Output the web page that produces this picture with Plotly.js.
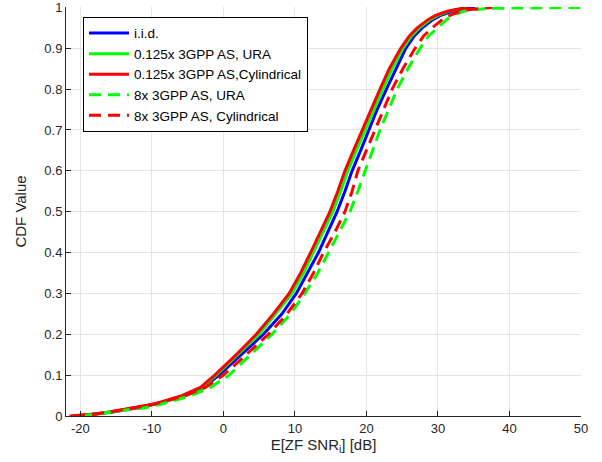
<!DOCTYPE html>
<html>
<head>
<meta charset="utf-8">
<script src="https://cdn.plot.ly/plotly-3.0.1.min.js"></script>
<style>html,body{margin:0;padding:0;background:#fff;}#chart{width:602px;height:462px;}</style>
</head>
<body>
<div id="chart"></div>
<script>
// CDF levels (y values)
const cdfLevels = [0, 0.005, 0.01, 0.02, 0.03, 0.05, 0.07, 0.1, 0.12, 0.15, 0.2, 0.25, 0.3, 0.35, 0.4, 0.45, 0.5, 0.55, 0.6, 0.65, 0.7, 0.75, 0.8, 0.85, 0.9, 0.93, 0.95, 0.97, 0.98, 0.99, 0.995, 1];
const cdfLevelsUra8 = [0, 0.005, 0.01, 0.02, 0.03, 0.05, 0.07, 0.1, 0.12, 0.15, 0.2, 0.25, 0.3, 0.35, 0.4, 0.45, 0.5, 0.55, 0.6, 0.65, 0.7, 0.75, 0.8, 0.85, 0.9, 0.93, 0.95, 0.97, 0.98, 0.99, 0.995, 0.998, 1];

// SNR values (dB) at each CDF level
const snrIid      = [-20.5, -17.5, -15.5, -12.0, -9.3, -5.3, -2.8, -0.6, 0.6, 2.5, 5.6, 8.2, 10.2, 11.8, 13.3, 14.6, 15.9, 17.0, 18.0, 19.2, 20.3, 21.5, 22.8, 24.1, 25.5, 26.7, 27.8, 29.3, 30.3, 31.9, 33.2, 35.2];
const snrUraSmall = [-21.0, -17.5, -15.5, -12.3, -9.3, -5.5, -3.0, -1.0, 0.2, 2.1, 5.0, 7.3, 9.6, 11.2, 12.6, 14.0, 15.3, 16.4, 17.4, 18.6, 19.8, 21.0, 22.3, 23.6, 25.1, 26.3, 27.4, 28.9, 29.9, 31.4, 32.7, 34.0];
const snrCylSmall = [-21.5, -18.0, -16.0, -12.5, -9.5, -5.8, -3.2, -1.2, 0.0, 1.8, 4.6, 7.0, 9.2, 10.8, 12.2, 13.6, 14.9, 16.0, 17.0, 18.2, 19.4, 20.6, 21.9, 23.2, 24.8, 26.0, 27.1, 28.6, 29.6, 31.2, 32.5, 34.3];
const snrUraLarge = [-20.0, -17.5, -15.8, -11.0, -8.5, -4.5, -1.8, 0.8, 2.0, 3.8, 6.8, 9.4, 11.4, 13.2, 14.7, 16.3, 17.7, 18.8, 19.8, 20.9, 21.9, 23.1, 24.3, 25.8, 27.5, 28.7, 29.9, 31.2, 32.0, 33.5, 35.0, 38.0, 50.0];
const snrCylLarge = [-21.0, -17.8, -15.8, -12.3, -9.5, -5.3, -2.5, 0.0, 1.3, 3.2, 6.3, 8.9, 11.0, 12.6, 14.0, 15.6, 17.0, 18.0, 18.8, 20.0, 21.2, 22.4, 23.6, 25.1, 26.8, 28.0, 29.2, 30.6, 31.6, 33.0, 34.5, 37.6];

const seriesNames = ['i.i.d.', '0.125x 3GPP AS, URA', '0.125x 3GPP AS,Cylindrical', '8x 3GPP AS, URA', '8x 3GPP AS, Cylindrical'];
const xTicks = [-20, -10, 0, 10, 20, 30, 40, 50];
const yTicks = [0, 0.1, 0.2, 0.3, 0.4, 0.5, 0.6, 0.7, 0.8, 0.9, 1];
const yTickLabels = ['0', '0.1', '0.2', '0.3', '0.4', '0.5', '0.6', '0.7', '0.8', '0.9', '1'];

const dashPat = '12px,7px';
function tr(x, y, name, color, dash) {
  return {x: x, y: y, name: name, type: 'scatter', mode: 'lines',
    line: {color: color, width: 3, dash: dash}};
}
const data = [
  tr(snrIid, cdfLevels, seriesNames[0], '#0000ff', 'solid'),
  tr(snrUraSmall, cdfLevels, seriesNames[1], '#00ff00', 'solid'),
  tr(snrCylSmall, cdfLevels, seriesNames[2], '#ff0000', 'solid'),
  tr(snrUraLarge, cdfLevelsUra8, seriesNames[3], '#00ff00', dashPat),
  tr(snrCylLarge, cdfLevels, seriesNames[4], '#ff0000', dashPat)
];

const axisCol = '#262626';
const layout = {
  width: 602, height: 462,
  margin: {l: 66, r: 21, t: 7, b: 46},
  paper_bgcolor: '#ffffff', plot_bgcolor: '#ffffff',
  font: {family: 'Liberation Sans, Arial, sans-serif', size: 13, color: axisCol},
  showlegend: true,
  legend: {x: 0.033, y: 0.976, xanchor: 'left', yanchor: 'top',
    bgcolor: '#ffffff', bordercolor: '#000000', borderwidth: 1,
    font: {size: 13.5, color: '#000000'}, tracegroupgap: 0, itemwidth: 40},
  xaxis: {range: [-22, 50], tickvals: xTicks, ticktext: xTicks.map(String),
    showgrid: true, gridcolor: '#e5e5e5', gridwidth: 1, zeroline: false,
    showline: true, linecolor: axisCol, linewidth: 1, mirror: false,
    ticks: 'inside', ticklen: 5, tickcolor: axisCol,
    tickfont: {size: 13, color: axisCol},
    title: {text: 'E[ZF SNR<sub>i</sub>] [dB]', font: {size: 15, color: axisCol}, standoff: 4}},
  yaxis: {range: [0, 1.001], tickvals: yTicks, ticktext: yTickLabels,
    showgrid: true, gridcolor: '#e5e5e5', gridwidth: 1, zeroline: false,
    showline: true, linecolor: axisCol, linewidth: 1, mirror: false,
    ticks: 'inside', ticklen: 5, tickcolor: axisCol,
    tickfont: {size: 13, color: axisCol},
    ticklabeloverflow: 'allow',
    title: {text: 'CDF Value', font: {size: 15, color: axisCol}, standoff: 14}}
};
Plotly.newPlot('chart', data, layout, {displayModeBar: false, staticPlot: true});
</script>
</body>
</html>
